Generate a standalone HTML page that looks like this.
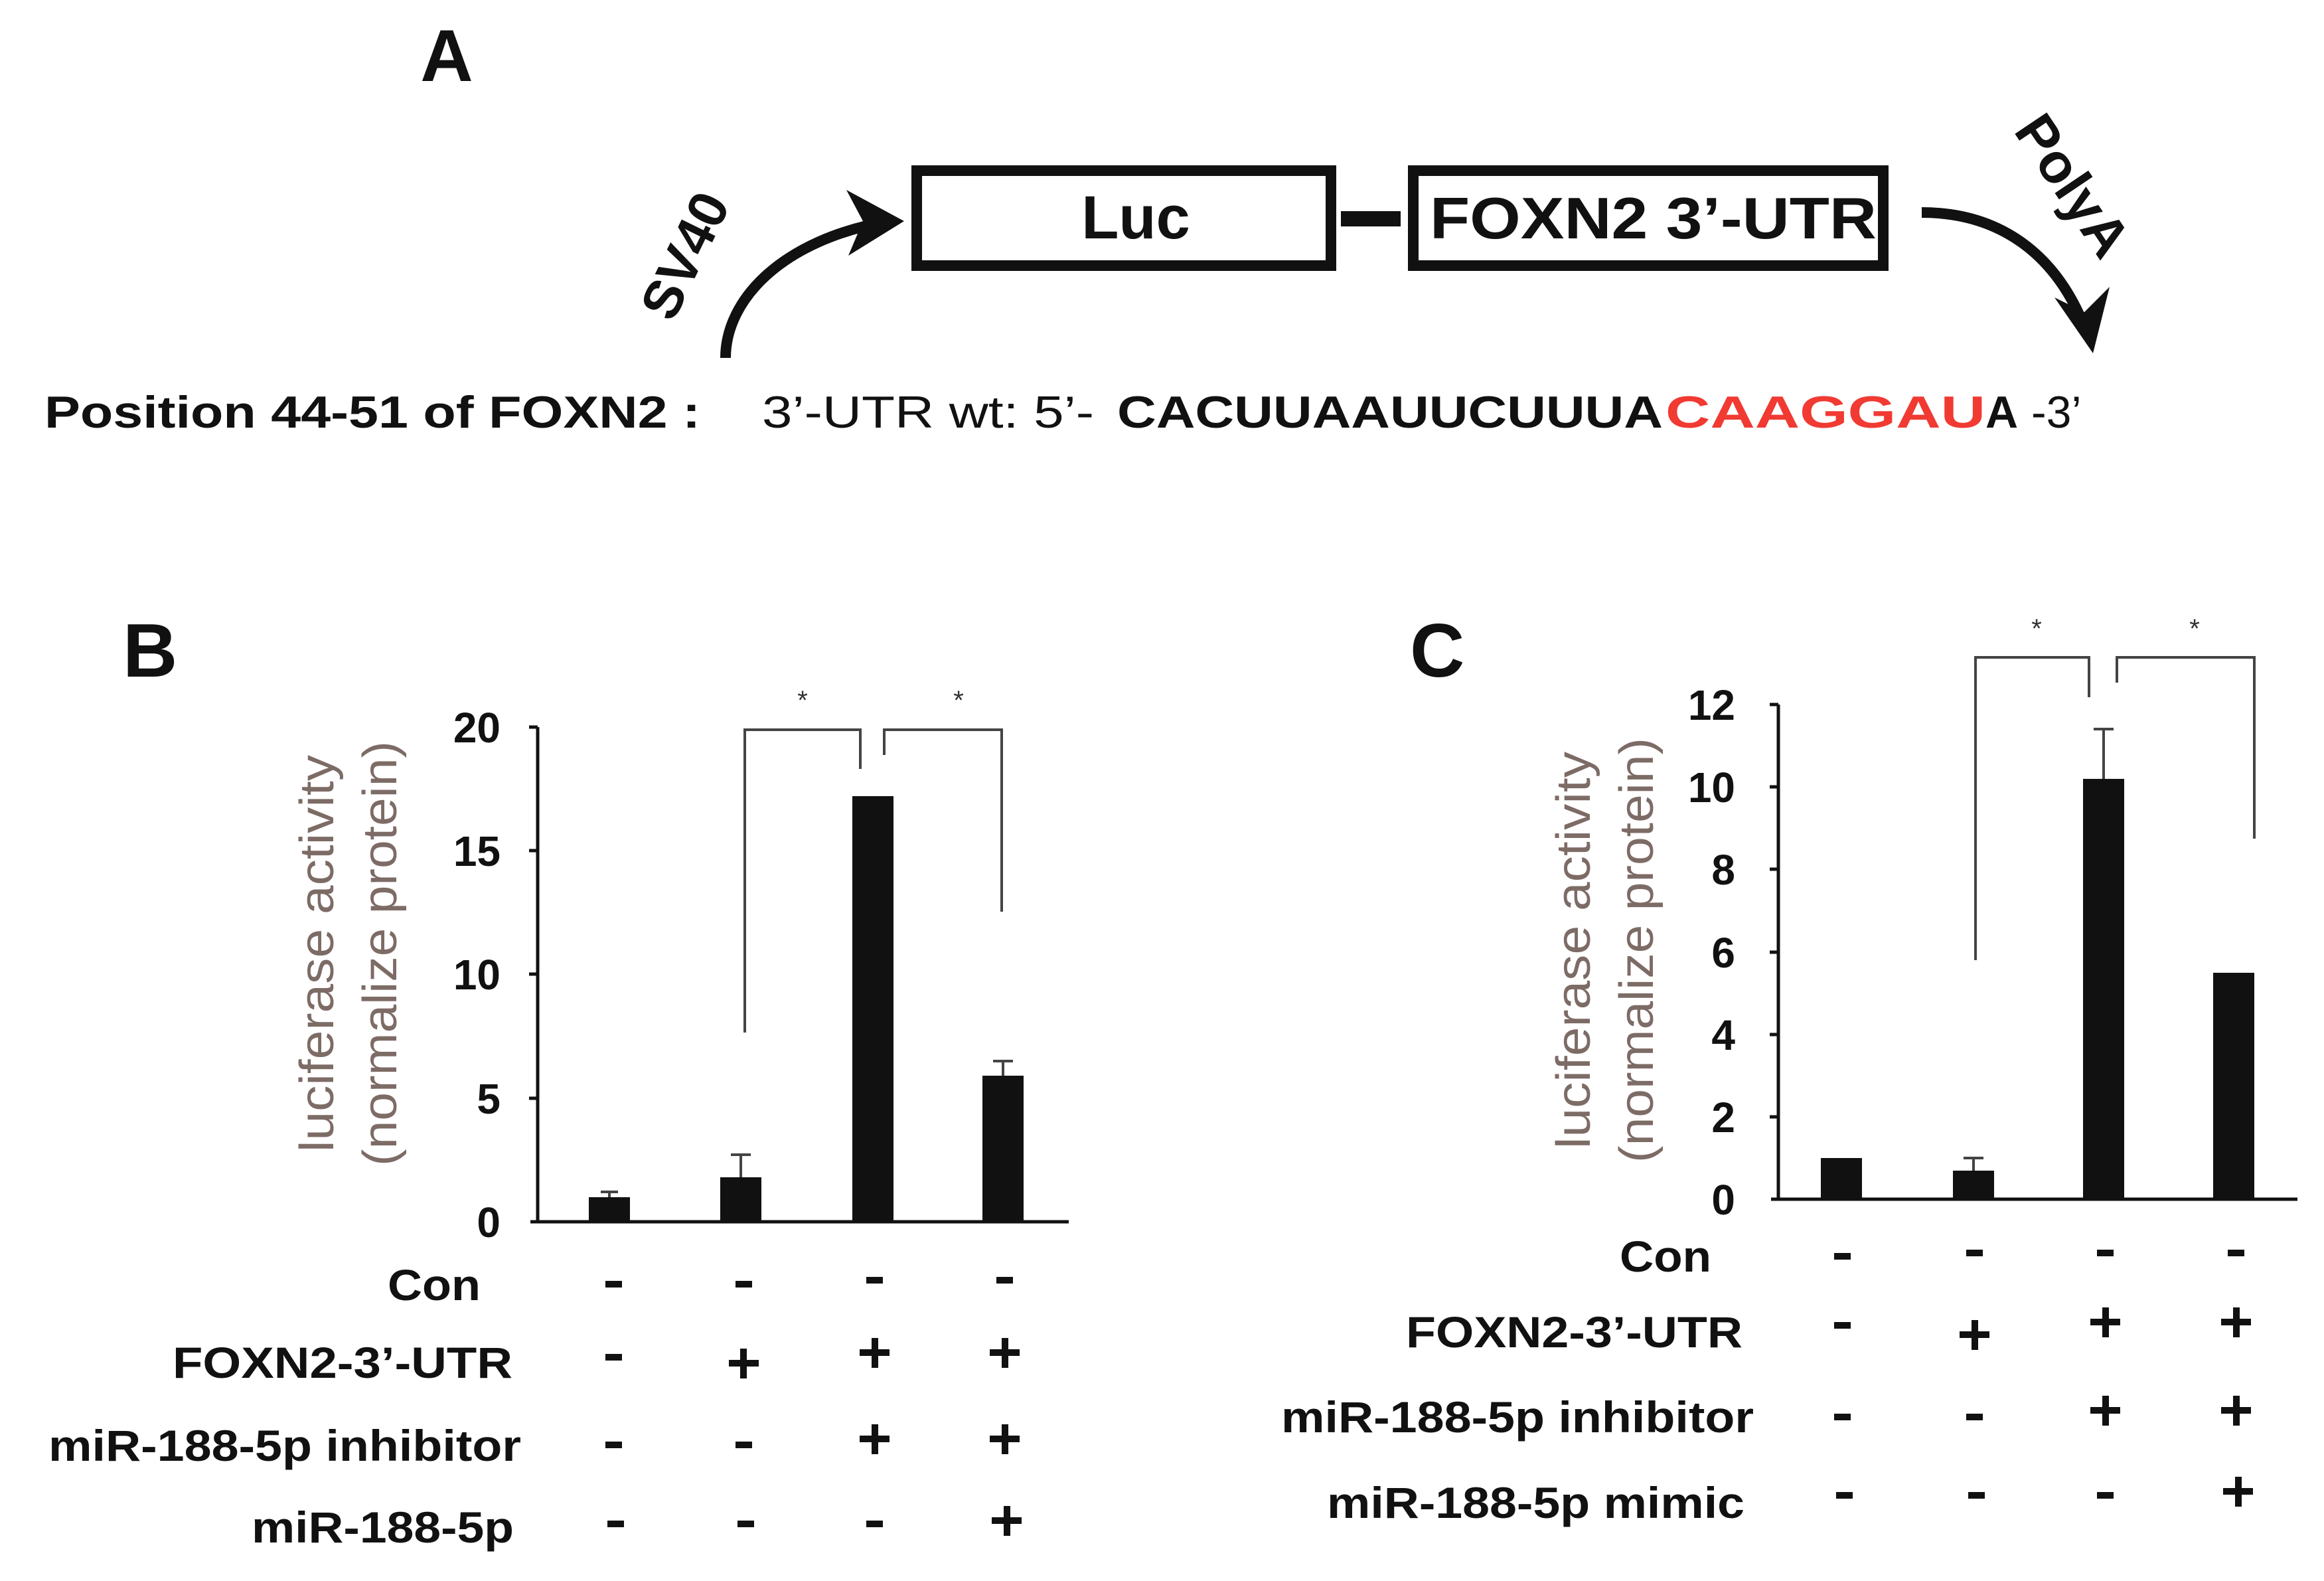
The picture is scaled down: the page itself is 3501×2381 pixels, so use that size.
<!DOCTYPE html>
<html><head><meta charset="utf-8"><style>html,body{margin:0;padding:0;background:#fff;overflow:hidden}svg{display:block}</style></head>
<body>
<svg width="3501" height="2381" viewBox="0 0 3501 2381" xmlns="http://www.w3.org/2000/svg" font-family="Liberation Sans, Arial, sans-serif">
<rect width="3501" height="2381" fill="#fff"/>
<!-- Panel A -->
<text x="673" y="122" font-size="110" font-weight="bold" text-anchor="middle" fill="#111">A</text>
<rect x="1381" y="257" width="624" height="143" fill="none" stroke="#111" stroke-width="16"/>
<rect x="2129" y="257" width="708" height="143" fill="none" stroke="#111" stroke-width="16"/>
<rect x="2020" y="318" width="90" height="23" fill="#111"/>
<text x="1711" y="359" font-size="92" font-weight="bold" text-anchor="middle" fill="#111">Luc</text>
<text x="2154" y="359" font-size="88" font-weight="bold" fill="#111" textLength="673" lengthAdjust="spacingAndGlyphs">FOXN2 3’-UTR</text>
<path d="M1093,539 C1093,450 1180,360 1340,333" fill="none" stroke="#111" stroke-width="16"/>
<path d="M1362,333 L1275,286 L1300,333 L1278,385 Z" fill="#111"/>
<text transform="translate(1032,385) rotate(-64)" font-size="82" font-weight="bold" text-anchor="middle" fill="#111" dy="28">SV40</text>
<path d="M2895,320 C3010,320 3100,380 3145,505" fill="none" stroke="#111" stroke-width="16"/>
<path d="M3153,532 L3095,448 L3140,470 L3178,432 Z" fill="#111"/>
<text transform="translate(3122,280) rotate(56)" font-size="84" font-weight="bold" text-anchor="middle" fill="#111" dy="28">PolyA</text>
<text x="67" y="644" font-size="68" font-weight="bold" fill="#111" textLength="988" lengthAdjust="spacingAndGlyphs">Position 44-51 of FOXN2 :</text>
<text x="1148" y="644" font-size="68" fill="#111" textLength="500" lengthAdjust="spacingAndGlyphs">3’-UTR wt: 5’-</text>
<text x="1683" y="644" font-size="68" font-weight="bold" fill="#111" textLength="822" lengthAdjust="spacingAndGlyphs">CACUUAAUUCUUUA</text>
<text x="2509" y="644" font-size="68" font-weight="bold" fill="#f03a32" textLength="482" lengthAdjust="spacingAndGlyphs">CAAGGAU</text>
<text x="2991" y="644" font-size="68" font-weight="bold" fill="#111">A</text>
<text x="3060" y="644" font-size="68" fill="#111">-3’</text>

<!-- Panel B -->
<text x="185" y="1019" font-size="114" font-weight="bold" fill="#111">B</text>
<g stroke="#111" stroke-width="5" fill="none">
<line x1="810" y1="1095" x2="810" y2="1842"/>
<line x1="799" y1="1840" x2="1610" y2="1840"/>
<line x1="797" y1="1095" x2="810" y2="1095"/>
<line x1="797" y1="1281" x2="810" y2="1281"/>
<line x1="797" y1="1467" x2="810" y2="1467"/>
<line x1="797" y1="1654" x2="810" y2="1654"/>
</g>
<g font-size="64" font-weight="bold" text-anchor="end" fill="#111">
<text x="754" y="1118">20</text><text x="754" y="1304">15</text><text x="754" y="1490">10</text><text x="754" y="1677">5</text><text x="754" y="1863">0</text>
</g>
<g fill="#7d6b66" font-size="72" text-anchor="middle">
<text transform="translate(502,1436) rotate(-90)" textLength="598" lengthAdjust="spacingAndGlyphs">luciferase activity</text>
<text transform="translate(597,1436) rotate(-90)" textLength="640" lengthAdjust="spacingAndGlyphs">(normalize protein)</text>
</g>
<g stroke="#444" stroke-width="4" fill="none">
<path d="M918,1803 V1795 M905,1795 H931"/>
<path d="M1116,1773 V1739 M1101,1739 H1131"/>
<path d="M1511,1620 V1598 M1496,1598 H1526"/>
<path d="M1122,1555 V1099 H1296 V1158"/>
<path d="M1332,1137 V1099 H1509 V1373"/>
</g>
<g fill="#111">
<rect x="887" y="1803" width="62" height="37"/>
<rect x="1085" y="1773" width="62" height="67"/>
<rect x="1284" y="1199" width="62" height="641"/>
<rect x="1480" y="1620" width="62" height="220"/>
</g>
<g font-size="40" text-anchor="middle" fill="#333"><text x="1209" y="1068">*</text><text x="1444" y="1068">*</text></g>
<g font-size="66" font-weight="bold" text-anchor="end" fill="#111">
<text x="724" y="1958" textLength="140" lengthAdjust="spacingAndGlyphs">Con</text>
<text x="772" y="2075" textLength="512" lengthAdjust="spacingAndGlyphs">FOXN2-3’-UTR</text>
<text x="785" y="2200" textLength="712" lengthAdjust="spacingAndGlyphs">miR-188-5p inhibitor</text>
<text x="774" y="2323" textLength="395" lengthAdjust="spacingAndGlyphs">miR-188-5p</text>
</g>
<g fill="#111">
<rect x="912" y="1929" width="25" height="10"/><rect x="1108" y="1929" width="25" height="10"/><rect x="1305" y="1923" width="25" height="10"/><rect x="1501" y="1923" width="25" height="10"/>
<rect x="912" y="2039" width="25" height="10"/>
<rect x="1098" y="2048" width="45" height="10"/><rect x="1115" y="2031" width="10" height="45"/>
<rect x="1295" y="2032" width="45" height="10"/><rect x="1313" y="2015" width="10" height="45"/>
<rect x="1491" y="2032" width="45" height="10"/><rect x="1509" y="2015" width="10" height="45"/>
<rect x="912" y="2171" width="25" height="10"/><rect x="1108" y="2171" width="25" height="10"/>
<rect x="1295" y="2162" width="45" height="10"/><rect x="1313" y="2145" width="10" height="45"/>
<rect x="1491" y="2162" width="45" height="10"/><rect x="1509" y="2145" width="10" height="45"/>
<rect x="915" y="2290" width="25" height="10"/><rect x="1111" y="2290" width="25" height="10"/><rect x="1305" y="2290" width="25" height="10"/>
<rect x="1494" y="2285" width="45" height="10"/><rect x="1512" y="2268" width="10" height="45"/>
</g>

<!-- Panel C -->
<text x="2124" y="1019" font-size="114" font-weight="bold" fill="#111">C</text>
<g stroke="#111" stroke-width="5" fill="none">
<line x1="2679" y1="1061" x2="2679" y2="1808"/>
<line x1="2668" y1="1806" x2="3461" y2="1806"/>
<line x1="2666" y1="1061" x2="2679" y2="1061"/>
<line x1="2666" y1="1185" x2="2679" y2="1185"/>
<line x1="2666" y1="1309" x2="2679" y2="1309"/>
<line x1="2666" y1="1434" x2="2679" y2="1434"/>
<line x1="2666" y1="1558" x2="2679" y2="1558"/>
<line x1="2666" y1="1682" x2="2679" y2="1682"/>
</g>
<g font-size="64" font-weight="bold" text-anchor="end" fill="#111">
<text x="2614" y="1084">12</text><text x="2614" y="1208">10</text><text x="2614" y="1332">8</text><text x="2614" y="1457">6</text><text x="2614" y="1581">4</text><text x="2614" y="1705">2</text><text x="2614" y="1829">0</text>
</g>
<g fill="#7d6b66" font-size="72" text-anchor="middle">
<text transform="translate(2395,1431) rotate(-90)" textLength="598" lengthAdjust="spacingAndGlyphs">luciferase activity</text>
<text transform="translate(2490,1431) rotate(-90)" textLength="640" lengthAdjust="spacingAndGlyphs">(normalize protein)</text>
</g>
<g stroke="#444" stroke-width="4" fill="none">
<path d="M2973,1763 V1744 M2958,1744 H2988"/>
<path d="M3169,1173 V1098 M3154,1098 H3184"/>
<path d="M2976,1446 V990 H3147 V1050"/>
<path d="M3189,1028 V990 H3396 V1263"/>
</g>
<g fill="#111">
<rect x="2743" y="1744" width="62" height="62"/>
<rect x="2942" y="1763" width="62" height="43"/>
<rect x="3138" y="1173" width="62" height="633"/>
<rect x="3334" y="1465" width="62" height="341"/>
</g>
<g font-size="40" text-anchor="middle" fill="#333"><text x="3068" y="960">*</text><text x="3306" y="960">*</text></g>
<g font-size="66" font-weight="bold" text-anchor="end" fill="#111">
<text x="2578" y="1915" textLength="138" lengthAdjust="spacingAndGlyphs">Con</text>
<text x="2625" y="2029" textLength="507" lengthAdjust="spacingAndGlyphs">FOXN2-3’-UTR</text>
<text x="2642" y="2157" textLength="712" lengthAdjust="spacingAndGlyphs">miR-188-5p inhibitor</text>
<text x="2628" y="2286" textLength="629" lengthAdjust="spacingAndGlyphs">miR-188-5p mimic</text>
</g>
<g fill="#111">
<rect x="2763" y="1887" width="25" height="10"/><rect x="2962" y="1882" width="25" height="10"/><rect x="3159" y="1882" width="25" height="10"/><rect x="3356" y="1882" width="25" height="10"/>
<rect x="2763" y="1991" width="25" height="10"/>
<rect x="2952" y="2005" width="45" height="10"/><rect x="2970" y="1988" width="10" height="45"/>
<rect x="3149" y="1986" width="45" height="10"/><rect x="3167" y="1969" width="10" height="45"/>
<rect x="3346" y="1986" width="45" height="10"/><rect x="3364" y="1969" width="10" height="45"/>
<rect x="2763" y="2129" width="25" height="10"/><rect x="2962" y="2129" width="25" height="10"/>
<rect x="3149" y="2119" width="45" height="10"/><rect x="3167" y="2102" width="10" height="45"/>
<rect x="3346" y="2119" width="45" height="10"/><rect x="3364" y="2102" width="10" height="45"/>
<rect x="2766" y="2247" width="25" height="10"/><rect x="2965" y="2247" width="25" height="10"/><rect x="3159" y="2247" width="25" height="10"/>
<rect x="3349" y="2241" width="45" height="10"/><rect x="3367" y="2224" width="10" height="45"/>
</g>
</svg>
</body></html>
